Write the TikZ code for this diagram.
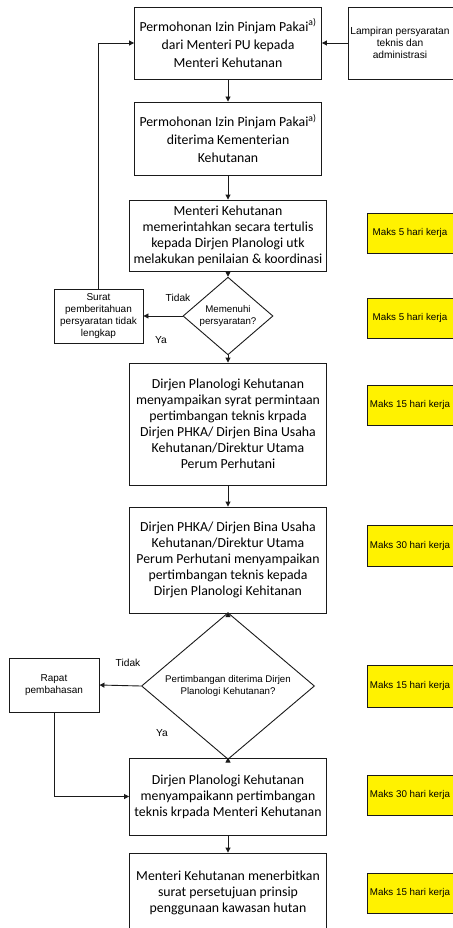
\documentclass[tikz,border=0pt]{standalone}
\usepackage{fontspec}
\setmainfont{Carlito}
\newfontfamily\arialf{Liberation Sans}
\usetikzlibrary{shapes.geometric,arrows.meta}
\definecolor{ln}{HTML}{1A1A1A}
\tikzset{
  pbox/.style={draw=ln, line width=0.9pt, fill=white, inner sep=0pt, align=center,
    font=\fontsize{13.8}{16}\selectfont},
  pboxa/.style={pbox, font=\fontsize{13.8}{18}\selectfont},
  sbox/.style={draw=ln, line width=0.9pt, fill=white, inner sep=0pt, align=center,
    font=\arialf\fontsize{10}{12}\selectfont},
  dec/.style={diamond, draw=ln, line width=0.9pt, fill=white, inner sep=0pt, align=center,
    font=\arialf\fontsize{9.7}{12}\selectfont},
  ybox/.style={draw=ln, line width=0.9pt, fill=yellow, inner sep=0pt},
  stxt/.style={inner sep=0pt, align=center, font=\arialf\fontsize{9.8}{12}\selectfont},
  ltxt/.style={inner sep=0pt, align=center, font=\arialf\fontsize{10.2}{12}\selectfont},
  lbl/.style={inner sep=0pt, font=\arialf\fontsize{10.2}{12}\selectfont},
  arr/.style={draw=ln, line width=0.9pt, -{Triangle[length=5pt,width=5pt]}},
  con/.style={draw=ln, line width=0.9pt}
}
\begin{document}
\begin{tikzpicture}[x=1pt,y=-1pt]
\useasboundingbox[fill=white] (0,0) rectangle (452,928);

% main process boxes
\node[pboxa, minimum width=187pt, minimum height=72pt] (b1) at (228,43)
  {Permohonan Izin Pinjam Pakai\textsuperscript{a)}\\dari Menteri PU kepada\\Menteri Kehutanan};
\node[pboxa, minimum width=187pt, minimum height=73pt] (b2) at (228,138.5)
  {Permohonan Izin Pinjam Pakai\textsuperscript{a)}\\diterima Kementerian\\Kehutanan};
\node[pbox, minimum width=197pt, minimum height=71pt] (b3) at (228,235.5)
  {Menteri Kehutanan\\memerintahkan secara tertulis\\kepada Dirjen Planologi utk\\melakukan penilaian \& koordinasi};
\node[dec, minimum width=90pt, minimum height=54pt] (d1) at (228,316)
  {Memenuhi\\persyaratan?};
\node[sbox, minimum width=89pt, minimum height=54pt] (surat) at (98.5,316)
  {Surat\\pemberitahuan\\persyaratan tidak\\lengkap};
\node[pbox, minimum width=197pt, minimum height=122pt] (b4) at (228,424)
  {Dirjen Planologi Kehutanan\\menyampaikan syrat permintaan\\pertimbangan teknis krpada\\Dirjen PHKA/ Dirjen Bina Usaha\\Kehutanan/Direktur Utama\\Perum Perhutani};
\node[pbox, minimum width=197pt, minimum height=106pt] (b5) at (228,560)
  {Dirjen PHKA/ Dirjen Bina Usaha\\Kehutanan/Direktur Utama\\Perum Perhutani menyampaikan\\pertimbangan teknis kepada\\Dirjen Planologi Kehitanan};
\node[dec, minimum width=173pt, minimum height=104pt] (d2) at (228,686)
  {Pertimbangan diterima Dirjen\\Planologi Kehutanan?};
\node[sbox, minimum width=90pt, minimum height=54pt] (rapat) at (54,685)
  {Rapat\\pembahasan};
\node[pbox, minimum width=197pt, minimum height=77pt] (b6) at (228,796.5)
  {Dirjen Planologi Kehutanan\\menyampaikann pertimbangan\\teknis krpada Menteri Kehutanan};
\node[pbox, minimum width=197pt, minimum height=80pt] (b7) at (228,893)
  {Menteri Kehutanan menerbitkan\\surat persetujuan prinsip\\penggunaan kawasan hutan};

% attachment box (cut by right edge)
\node[sbox, minimum width=122pt, minimum height=72pt] (lamp) at (409,43) {};
\node[ltxt] (lampt) at (400,43) {Lampiran persyaratan\\teknis dan\\administrasi};

% yellow time boxes
\node[ybox, minimum width=93pt, minimum height=40pt] (y1) at (413.5,233) {};
\node[stxt] (y1t) at (410,233) {Maks 5 hari kerja};
\node[ybox, minimum width=93pt, minimum height=40pt] (y2) at (413.5,318) {};
\node[stxt] (y2t) at (410,318) {Maks 5 hari kerja};
\node[ybox, minimum width=93pt, minimum height=40pt] (y3) at (413.5,405) {};
\node[stxt] (y3t) at (410,405) {Maks 15 hari kerja};
\node[ybox, minimum width=93pt, minimum height=41pt] (y4) at (413.5,545.5) {};
\node[stxt] (y4t) at (410,545.5) {Maks 30 hari kerja};
\node[ybox, minimum width=93pt, minimum height=42pt] (y5) at (413.5,686) {};
\node[stxt] (y5t) at (410,686) {Maks 15 hari kerja};
\node[ybox, minimum width=93pt, minimum height=40pt] (y6) at (413.5,795) {};
\node[stxt] (y6t) at (410,795) {Maks 30 hari kerja};
\node[ybox, minimum width=93pt, minimum height=40pt] (y7) at (413.5,893) {};
\node[stxt] (y7t) at (410,893) {Maks 15 hari kerja};

% branch labels
\node[lbl] (t1) at (178,298) {Tidak};
\node[lbl] (ya1) at (161,340) {Ya};
\node[lbl] (t2) at (128,663) {Tidak};
\node[lbl] (ya2) at (162,733) {Ya};

% connectors
\draw[arr] (b1.south) -- (b2.north);
\draw[arr] (b2.south) -- (b3.north);
\draw[arr] (b3.south) -- (d1.north);
\draw[arr] (d1.west) -- (surat.east);
\draw[arr] (surat.north) -- (surat.north |- b1.west) -- (b1.west);
\draw[arr] (lamp.west) -- (b1.east);
\draw[arr] (d1.south) -- (b4.north);
\draw[arr] (b4.south) -- (b5.north);
\draw[arr] (b5.south) -- (d2.north);
\draw[arr] (d2.west) -- (rapat.east);
\draw[arr] (d2.south) -- (b6.north);
\draw[arr] (rapat.south) |- (b6.west);
\draw[arr] (b6.south) -- (b7.north);
\end{tikzpicture}
\end{document}
